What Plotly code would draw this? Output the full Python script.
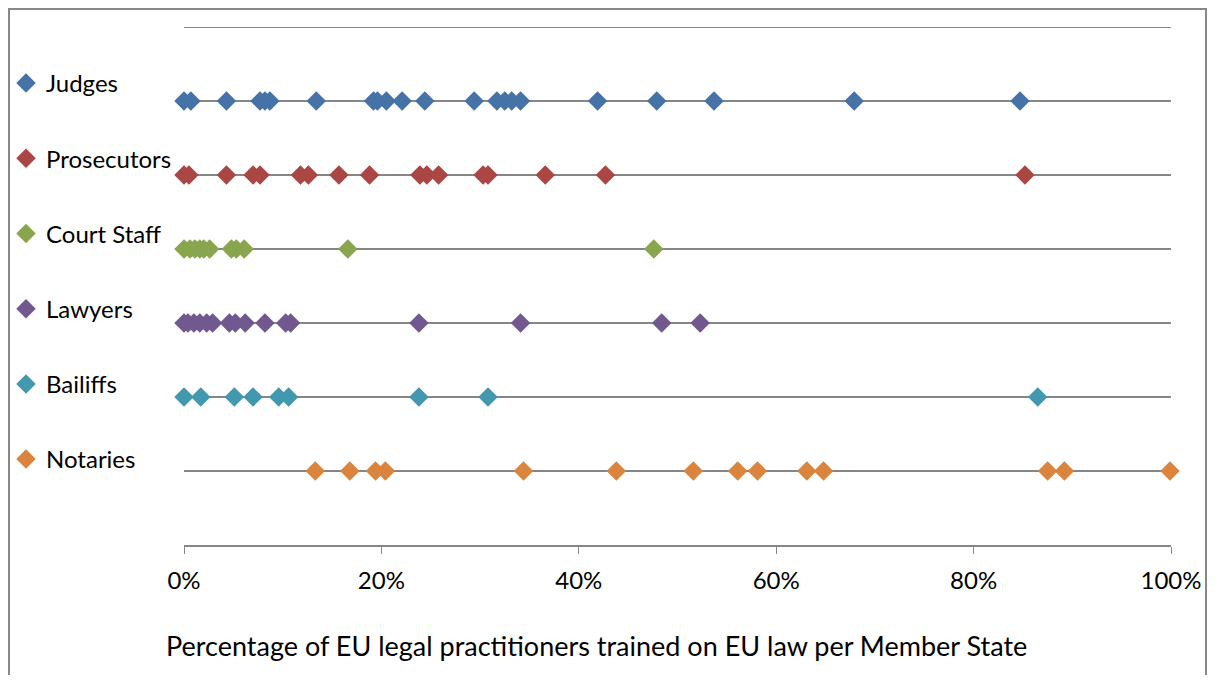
import plotly.graph_objects as go

categories = ["Judges", "Prosecutors", "Court Staff", "Lawyers", "Bailiffs", "Notaries"]
row_positions = [6, 5, 4, 3, 2, 1]
colors = ["#4572A7", "#AA4643", "#89A54E", "#71588F", "#4198AF", "#DB843D"]

judges = [0.0, 0.7, 4.3, 7.7, 8.2, 8.7, 13.4, 19.2, 19.6, 20.5, 22.1, 24.4, 29.4, 31.7,
          32.5, 33.2, 34.1, 41.9, 47.9, 53.7, 67.9, 84.7]
prosecutors = [0.0, 0.5, 4.3, 7.0, 7.7, 11.8, 12.6, 15.7, 18.8, 23.9, 24.6, 25.8, 30.3,
               30.8, 36.6, 42.7, 85.2]
court_staff = [0.0, 0.6, 1.1, 1.6, 2.0, 2.6, 4.8, 5.3, 6.1, 16.6, 47.6]
lawyers = [0.0, 0.4, 1.0, 1.6, 2.3, 2.9, 4.6, 5.2, 6.2, 8.2, 10.3, 10.8, 23.8, 34.1,
           48.4, 52.3]
bailiffs = [0.0, 1.7, 5.1, 7.0, 9.6, 10.6, 23.8, 30.8, 86.5]
notaries = [13.3, 16.8, 19.4, 20.4, 34.4, 43.8, 51.6, 56.1, 58.1, 63.1, 64.8, 87.5,
            89.2, 99.9]

series = [judges, prosecutors, court_staff, lawyers, bailiffs, notaries]
tick_vals = [0, 0.2, 0.4, 0.6, 0.8, 1.0]
tick_text = ["0%", "20%", "40%", "60%", "80%", "100%"]
axis_title = "Percentage of EU legal practitioners trained on EU law per Member State"

FONT = "Lato, Calibri, Carlito, sans-serif"

fig = go.Figure()

# horizontal row lines (0% to 100%)
for name, ypos in zip(categories, row_positions):
    fig.add_trace(go.Scatter(
        x=[0, 1], y=[ypos, ypos], mode="lines",
        line=dict(color="#868686", width=2),
        showlegend=False, hoverinfo="skip"))

# markers
for name, ypos, vals, col in zip(categories, row_positions, series, colors):
    fig.add_trace(go.Scatter(
        x=[v / 100 for v in vals], y=[ypos] * len(vals), mode="markers",
        name=name, legendgroup=name, cliponaxis=False,
        marker=dict(symbol="diamond", size=15, color=col, line=dict(width=0))))

W, H = 1199, 667
L, T = 176, 19
PW, PH = 987, 518

def px(xf):
    return (xf - L) / PW

def py(yf):
    return (T + PH - yf) / PH

fig.update_layout(
    width=W, height=H,
    margin=dict(l=L, r=W - L - PW, t=T, b=H - T - PH, autoexpand=False),
    paper_bgcolor="white", plot_bgcolor="white",
    font=dict(family=FONT, size=24, color="black"),
    showlegend=True,
    legend=dict(
        x=px(-2), y=py(53), xanchor="left", yanchor="top",
        font=dict(family=FONT, size=24, color="black"),
        tracegroupgap=41, itemwidth=30, bgcolor="rgba(0,0,0,0)",
        traceorder="grouped"),
    xaxis=dict(
        range=[0, 1], tickvals=tick_vals, ticktext=tick_text,
        showgrid=False, zeroline=False,
        showline=True, linecolor="#868686", linewidth=2,
        ticks="outside", ticklen=7, tickcolor="#868686", tickwidth=1,
        ticklabelstandoff=6,
        tickfont=dict(family=FONT, size=24, color="black"),
        fixedrange=True),
    yaxis=dict(
        range=[0, 7], showticklabels=False, showgrid=False, zeroline=False,
        showline=False, fixedrange=True),
    shapes=[
        dict(type="line", xref="x", yref="y", x0=0, x1=1, y0=7, y1=7,
             line=dict(color="#868686", width=2)),
        dict(type="rect", xref="paper", yref="paper",
             x0=px(1), x1=px(1198), y0=py(673), y1=py(1),
             line=dict(color="#888888", width=2), fillcolor="rgba(0,0,0,0)"),
    ],
    annotations=[
        dict(text=axis_title, xref="paper", yref="paper", x=px(588), y=py(637),
             xanchor="center", yanchor="middle", showarrow=False,
             font=dict(family=FONT, size=27, color="black")),
    ],
)

fig.write_html("out.html")
